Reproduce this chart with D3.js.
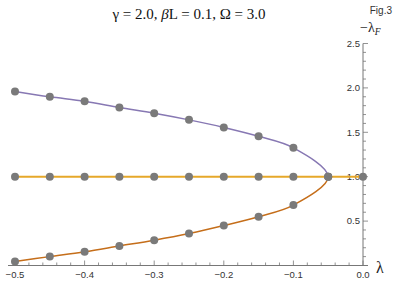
<!DOCTYPE html>
<html><head><meta charset="utf-8">
<script src="https://cdn.jsdelivr.net/npm/d3@7"></script>
<style>
body{margin:0;background:#fff}svg{display:block}
.sans{font-family:'Liberation Sans',Arial,Helvetica,sans-serif}
.serif{font-family:'Liberation Serif','Times New Roman',Times,serif}
</style>
</head><body>
<svg id="c" width="400" height="282"></svg>
<script>
const lambdas = [-0.5, -0.45, -0.4, -0.35, -0.3, -0.25, -0.2, -0.15, -0.1, -0.05];
const upperVals = [1.96, 1.90, 1.85, 1.78, 1.715, 1.64, 1.555, 1.455, 1.325, 1.0];
const lowerVals = [0.045, 0.10, 0.155, 0.22, 0.285, 0.36, 0.45, 0.55, 0.68, 1.0];
const flatLambdas = [-0.5, -0.45, -0.4, -0.35, -0.3, -0.25, -0.2, -0.15, -0.1, -0.05, 0.0];
const flatVals = [1, 1, 1, 1, 1, 1, 1, 1, 1, 1, 1];
const xTicks = [-0.5, -0.4, -0.3, -0.2, -0.1, 0.0];
const yTicks = [0.5, 1.0, 1.5, 2.0, 2.5];

const svg = d3.select("#c");
const x = d3.scaleLinear().domain([-0.5, 0]).range([15, 363]);
const y = d3.scaleLinear().domain([0, 2.5]).range([265.5, 43.5]);
const axisColor = "#777";

// x axis
svg.append("line").attr("x1", 8).attr("x2", 368).attr("y1", y(0)).attr("y2", y(0))
  .attr("stroke", axisColor).attr("stroke-width", 1);
d3.range(-0.5, 0.0001, 0.02).forEach(v => {
  const major = Math.abs(Math.round(v * 10) - v * 10) < 1e-6;
  svg.append("line").attr("x1", x(v)).attr("x2", x(v))
    .attr("y1", y(0)).attr("y2", y(0) - (major ? 5 : 3))
    .attr("stroke", axisColor).attr("stroke-width", 0.8);
});
xTicks.forEach(v => {
  svg.append("text").attr("class", "sans").attr("x", x(v)).attr("y", y(0) + 12)
    .attr("text-anchor", "middle").attr("font-size", 9.5)
    .attr("fill", "#333").text(v === 0 ? "0.0" : "\u2212" + Math.abs(v).toFixed(1));
});
// y axis
svg.append("line").attr("x1", x(0)).attr("x2", x(0)).attr("y1", y(2.5)).attr("y2", y(0))
  .attr("stroke", axisColor).attr("stroke-width", 1);
d3.range(0.1, 2.5001, 0.1).forEach(v => {
  const major = Math.abs(Math.round(v * 2) - v * 2) < 1e-6;
  svg.append("line").attr("x1", x(0)).attr("x2", x(0) + (major ? 5 : 3))
    .attr("y1", y(v)).attr("y2", y(v))
    .attr("stroke", axisColor).attr("stroke-width", 0.8);
});
yTicks.forEach(v => {
  svg.append("text").attr("class", "sans").attr("x", x(0) - 3).attr("y", y(v) + 3.3)
    .attr("text-anchor", "end").attr("font-size", 9.5)
    .attr("fill", "#333").text(v.toFixed(1));
});

// curves
const full = lambdas.map((l, i) => [l, upperVals[i]])
  .concat(lambdas.slice(0, -1).map((l, i) => [l, lowerVals[i]]).reverse());
const line = d3.line().x(d => x(d[0])).y(d => y(d[1])).curve(d3.curveCatmullRom.alpha(0.5));
const defs = svg.append("defs");
defs.append("clipPath").attr("id", "top").append("rect")
  .attr("x", 0).attr("y", 0).attr("width", 400).attr("height", y(1));
defs.append("clipPath").attr("id", "bot").append("rect")
  .attr("x", 0).attr("y", y(1)).attr("width", 400).attr("height", 282 - y(1));
svg.append("path").attr("d", line(full)).attr("fill", "none")
  .attr("stroke", "#8778b3").attr("stroke-width", 1.5).attr("clip-path", "url(#top)");
svg.append("path").attr("d", line(full)).attr("fill", "none")
  .attr("stroke", "#c56e1a").attr("stroke-width", 1.5).attr("clip-path", "url(#bot)");
svg.append("path").attr("d", d3.line().x(d => x(d[0])).y(d => y(d[1]))(flatLambdas.map((l, i) => [l, flatVals[i]])))
  .attr("fill", "none").attr("stroke", "#e6a82a").attr("stroke-width", 2);

// dots
const dots = lambdas.map((l, i) => [l, upperVals[i]])
  .concat(lambdas.map((l, i) => [l, lowerVals[i]]))
  .concat(flatLambdas.map((l, i) => [l, flatVals[i]]));
svg.selectAll("circle.d").data(dots).enter().append("circle")
  .attr("cx", d => x(d[0])).attr("cy", d => y(d[1])).attr("r", 4)
  .attr("fill", "#7a7a7a");

// labels
svg.append("text").attr("class", "serif").attr("x", 189).attr("y", 19).attr("text-anchor", "middle")
  .attr("font-size", 15)
  .attr("fill", "#111").html("\u03b3 = 2.0, <tspan font-style='italic'>\u03b2</tspan>L = 0.1, \u03a9 = 3.0");
svg.append("text").attr("class", "sans").attr("x", 392).attr("y", 14).attr("text-anchor", "end")
  .attr("font-size", 10).attr("fill", "#333").text("Fig.3");
svg.append("text").attr("class", "serif").attr("x", 360).attr("y", 32)
  .attr("font-size", 14)
  .attr("fill", "#222").html("\u2212\u03bb<tspan font-size='9.5' dy='3' font-style='italic'>F</tspan>");
svg.append("text").attr("class", "serif").attr("x", 376).attr("y", 273)
  .attr("font-size", 16)
  .attr("fill", "#222").text("\u03bb");
</script>
</body></html>
